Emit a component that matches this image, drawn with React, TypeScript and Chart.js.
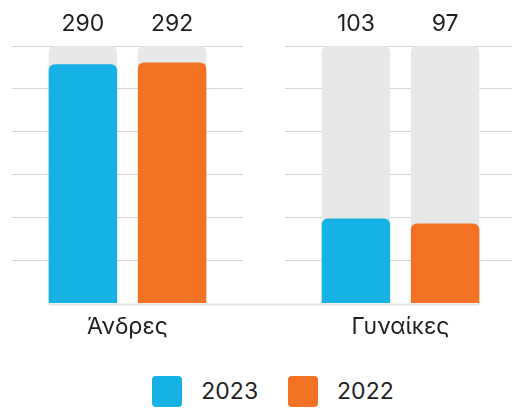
import React, { useEffect, useRef } from "react";
import { Chart, registerables } from "chart.js";
Chart.register(...registerables);

const groups = ["Άνδρες", "Γυναίκες"];
const seriesNames = ["2023", "2022"];
const values2023 = [290, 103];
const values2022 = [292, 97];
const trackMax = 312;
const seriesColors = ["#16B1E5", "#F37123"];
const trackColor = "#E8E8E8";
const gridColor = "#D6D6D6";
const FONT = "Inter, 'Noto Sans', 'DejaVu Sans', sans-serif";
const TEXT = "#1f1f1f";

const CW = 264;
const CH = 354;

function GroupChart({ index, padLeft, padRight, side }: { index: number; padLeft: number; padRight: number; side: "left" | "right" }) {
  const ref = useRef<HTMLCanvasElement | null>(null);
  useEffect(() => {
    if (!ref.current) return;
    const barOpts = { barPercentage: 0.768, categoryPercentage: 0.772 };
    const labelPlugin = {
      id: "valueLabels",
      afterDatasetsDraw(chart: any) {
        const ctx = chart.ctx;
        ctx.save();
        ctx.font = `400 23px ${FONT}`;
        ctx.fillStyle = TEXT;
        ctx.textAlign = "center";
        ctx.textBaseline = "middle";
        [0, 1].forEach((di) => {
          const meta = chart.getDatasetMeta(di);
          meta.data.forEach((el: any, i: number) => {
            const v = chart.data.datasets[di].data[i];
            ctx.fillText(String(v), el.x, chart.chartArea.top - 22);
          });
        });
        const bars = [0, 1].flatMap((di) => chart.getDatasetMeta(di).data);
        const lefts = bars.map((b: any) => b.x - b.width / 2);
        const rights = bars.map((b: any) => b.x + b.width / 2);
        const x1 = side === "left" ? Math.min(...lefts) : 0;
        const x2 = side === "left" ? chart.width : Math.max(...rights);
        ctx.strokeStyle = "#E2E2E2";
        ctx.lineWidth = 2;
        ctx.beginPath();
        ctx.moveTo(x1, chart.chartArea.bottom + 1);
        ctx.lineTo(x2, chart.chartArea.bottom + 1);
        ctx.stroke();
        ctx.restore();
      },
    };
    const chart = new Chart(ref.current, {
      type: "bar",
      data: {
        labels: [groups[index]],
        datasets: [
          { label: seriesNames[0], data: [values2023[index]], backgroundColor: seriesColors[0], borderRadius: 6, stack: "a", order: 1, ...barOpts },
          { label: seriesNames[1], data: [values2022[index]], backgroundColor: seriesColors[1], borderRadius: 6, stack: "b", order: 1, ...barOpts },
          { label: "bg1", data: [trackMax], backgroundColor: trackColor, borderRadius: 6, stack: "a", order: 2, ...barOpts },
          { label: "bg2", data: [trackMax], backgroundColor: trackColor, borderRadius: 6, stack: "b", order: 2, ...barOpts },
        ],
      },
      options: {
        responsive: false,
        animation: false,
        layout: { padding: { top: 46, bottom: 11, left: padLeft, right: padRight } },
        plugins: { legend: { display: false }, tooltip: { enabled: false } },
        scales: {
          x: {
            grid: { display: false },
            border: { display: false },
            ticks: { font: { family: FONT, size: 23 }, color: TEXT, padding: 2 },
          },
          y: {
            stacked: false,
            min: 0,
            max: trackMax,
            border: { display: false },
            ticks: { display: false, stepSize: trackMax / 6 },
            grid: {
              drawTicks: false,
              color: (c: any) => (c.tick && c.tick.value === 0 ? "rgba(0,0,0,0)" : gridColor),
            },
          },
        },
      },
      plugins: [labelPlugin],
    });
    return () => chart.destroy();
  }, []);
  return <canvas ref={ref} width={CW} height={CH} style={{ width: CW, height: CH, display: "block" }} />;
}

export default function App() {
  return (
    <div style={{ position: "fixed", left: 0, top: 0, width: 512, height: 409, overflow: "hidden", background: "#fff" }}>
      <div style={{ position: "absolute", left: 0, top: 0 }}>
        <GroupChart index={0} padLeft={12} padRight={21} side="left" />
      </div>
      <div style={{ position: "absolute", left: CW, top: 0 }}>
        <GroupChart index={1} padLeft={21} padRight={12} side="right" />
      </div>
      <div
        style={{
          position: "absolute",
          left: 0,
          top: 376,
          width: 512,
          height: 31,
          boxSizing: "border-box",
          paddingLeft: 34,
          display: "flex",
          justifyContent: "center",
          alignItems: "center",
          fontFamily: FONT,
          fontSize: 23,
          color: TEXT,
        }}
      >
        {seriesNames.map((name, i) => (
          <div key={name} style={{ display: "flex", alignItems: "center", marginLeft: i === 0 ? 0 : 30 }}>
            <div style={{ width: 30, height: 31, borderRadius: 4, background: seriesColors[i], marginRight: 19 }} />
            <span style={{ lineHeight: "31px" }}>{name}</span>
          </div>
        ))}
      </div>
    </div>
  );
}
